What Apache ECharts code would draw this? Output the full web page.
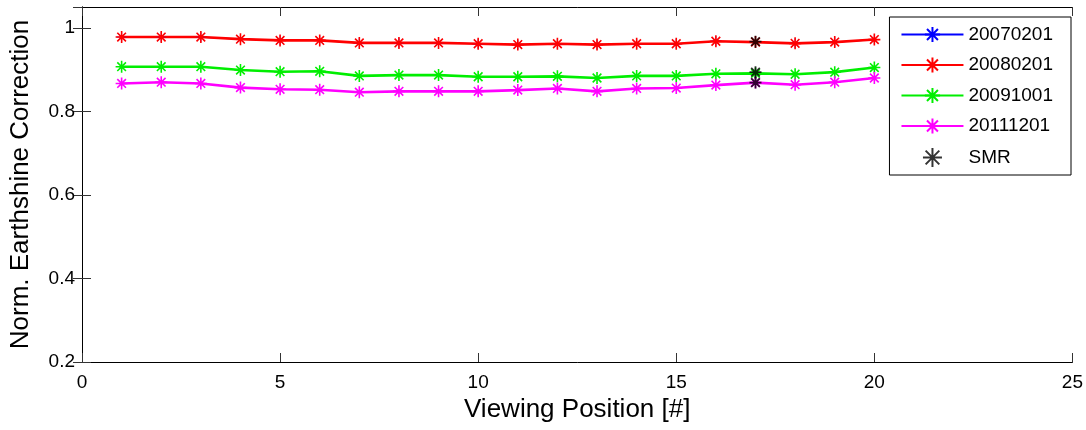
<!DOCTYPE html>
<html>
<head>
<meta charset="utf-8">
<script src="https://cdn.jsdelivr.net/npm/echarts@6/dist/echarts.min.js"></script>
<style>html,body{margin:0;padding:0;background:#fff}#c{width:1086px;height:430px}</style>
</head>
<body>
<div id="c"></div>
<script>
const positions = [1,2,3,4,5,6,7,8,9,10,11,12,13,14,15,16,17,18,19,20];
const s20070201 = [0.978,0.978,0.978,0.973,0.970,0.970,0.964,0.964,0.964,0.962,0.960,0.962,0.960,0.962,0.962,0.968,0.966,0.963,0.966,0.972];
const s20080201 = [0.978,0.978,0.978,0.973,0.970,0.970,0.964,0.964,0.964,0.962,0.960,0.962,0.960,0.962,0.962,0.968,0.966,0.963,0.966,0.972];
const s20091001 = [0.907,0.907,0.907,0.899,0.895,0.896,0.885,0.887,0.887,0.883,0.883,0.884,0.880,0.885,0.885,0.890,0.891,0.889,0.894,0.905];
const s20111201 = [0.867,0.870,0.867,0.857,0.853,0.852,0.846,0.848,0.848,0.848,0.851,0.855,0.848,0.855,0.856,0.863,0.869,0.864,0.870,0.880];
const smrX = [17,17,17];
const smrY = [0.967,0.894,0.869];
const seriesNames = ['20070201','20080201','20091001','20111201','SMR'];
const xTicks = [0,5,10,15,20,25];
const yTicks = [0.2,0.4,0.6,0.8,1];

const star = 'path://M0,-1L0,1M-1,0L1,0M-0.72,-0.72L0.72,0.72M-0.72,0.72L0.72,-0.72';
const colors = ['#0000ff','#ff0000','#00ee00','#ff00ff','#000000'];
const font = 'Liberation Sans, Arial, Helvetica, sans-serif';

function pairs(ys){ return positions.map((x,i)=>[x,ys[i]]); }
function lineSeries(name, ys, c, w, sw){
  return {
    name, type:'line', data: pairs(ys),
    symbol: star, symbolSize: 12,
    lineStyle:{color:c,width:w},
    itemStyle:{color:c,borderColor:c,borderWidth:sw},
    animation:false
  };
}
const axisCommon = {
  axisLine:{show:true,lineStyle:{color:'#000',width:1}},
  axisTick:{show:true,inside:true,length:9,lineStyle:{color:'#333',width:1}},
  splitLine:{show:false}
};
const chart = echarts.init(document.getElementById('c'));
const blue = lineSeries(seriesNames[0], s20070201, colors[0], 1.2, 0.8);
blue.symbolSize = 10;
chart.setOption({
  backgroundColor:'#fff',
  animation:false,
  grid:{left:81,right:10,top:7,bottom:68,containLabel:false},
  xAxis:[
    Object.assign({type:'value',min:xTicks[0],max:xTicks[xTicks.length-1],interval:5,position:'bottom',
      name:'Viewing Position [#]',nameLocation:'middle',nameGap:24,
      nameTextStyle:{fontFamily:font,fontSize:26,color:'#000'},
      axisLabel:{fontFamily:font,fontSize:19,color:'#000',margin:11}},axisCommon),
    Object.assign({type:'value',min:xTicks[0],max:xTicks[xTicks.length-1],interval:5,position:'top',
      axisLabel:{show:false}},axisCommon)
  ],
  yAxis:[
    Object.assign({type:'value',min:yTicks[0],max:1.05,interval:0.2,position:'left',
      name:'Norm. Earthshine Correction',nameLocation:'middle',nameGap:48,
      nameTextStyle:{fontFamily:font,fontSize:26,color:'#000'},
      axisLabel:{fontFamily:font,fontSize:19,color:'#000',margin:7,showMaxLabel:false,
        formatter:v=>String(Math.round(v*10)/10)}},axisCommon),
    Object.assign({type:'value',min:yTicks[0],max:1.05,interval:0.2,position:'right',
      axisLabel:{show:false}},axisCommon)
  ],
  legend:{
    orient:'vertical',right:15,top:17,
    data:seriesNames,
    backgroundColor:'#fff',borderColor:'#000',borderWidth:1,
    padding:[8,18,7,11],
    itemWidth:62,itemHeight:19,itemGap:11.5,
    textStyle:{fontFamily:font,fontSize:19,color:'#000',lineHeight:19}
  },
  series:[
    blue,
    lineSeries(seriesNames[1], s20080201, colors[1], 2.6, 1.6),
    lineSeries(seriesNames[2], s20091001, colors[2], 2.6, 1.6),
    lineSeries(seriesNames[3], s20111201, colors[3], 2.6, 1.6),
    {name:seriesNames[4],type:'scatter',data:smrX.map((x,i)=>[x,smrY[i]]),
      symbol:star,symbolSize:12,
      itemStyle:{color:'#000',borderColor:'#000',borderWidth:1.8},z:5,animation:false}
  ]
});
</script>
</body>
</html>
